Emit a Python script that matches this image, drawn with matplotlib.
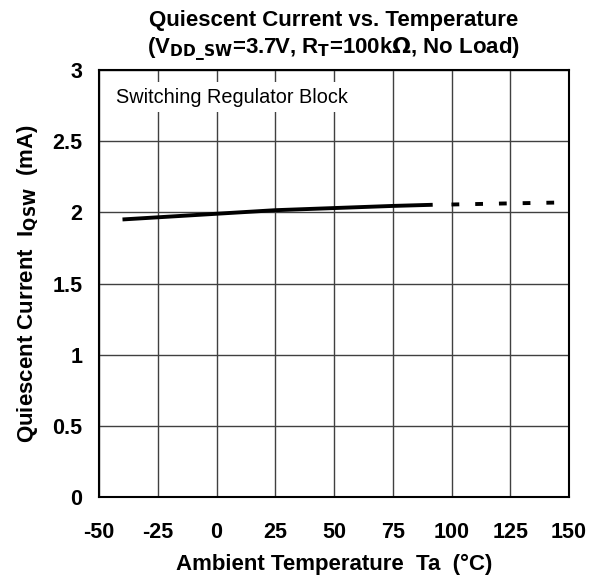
import matplotlib
matplotlib.use("Agg")
import matplotlib.pyplot as plt

plt.rcParams['font.family'] = ['Liberation Sans', 'DejaVu Sans']
plt.rcParams['axes.unicode_minus'] = False

# datos
temp_solid = [-40, 0, 25, 50, 75, 92]
iq_solid = [1.95, 1.99, 2.015, 2.03, 2.045, 2.053]
temp_dash = [100, 125, 150]
iq_dash = [2.055, 2.063, 2.07]

xticks = [-50, -25, 0, 25, 50, 75, 100, 125, 150]
yticks = [0, 0.5, 1, 1.5, 2, 2.5, 3]
ytick_labels = ['0', '0.5', '1', '1.5', '2', '2.5', '3']

fig = plt.figure(figsize=(6.04, 5.78), dpi=100)
ax = fig.add_axes([99/604, 1 - 497/578, (569-99)/604, (497-70)/578])

ax.plot(temp_solid, iq_solid, color='black', lw=2.8, solid_capstyle='butt', zorder=4)
ax.plot(temp_dash, iq_dash, color='black', lw=2.8, dashes=(2.0, 4.1), zorder=4)

ax.set_xlim(-50, 150)
ax.set_ylim(0, 3)
ax.set_xticks(xticks)
ax.set_yticks(yticks)
ax.set_yticklabels(ytick_labels)
ax.tick_params(length=0, labelsize=15.5)
ax.tick_params(axis='x', pad=18)
ax.tick_params(axis='y', pad=12)
for lab in ax.get_xticklabels() + ax.get_yticklabels():
    lab.set_fontweight('bold')
ax.grid(True, color='#404040', lw=1.0)
for s in ax.spines.values():
    s.set_linewidth(1.5)

ax.set_xlabel('Ambient Temperature  Ta  (°C)', fontsize=16, fontweight='bold', labelpad=8)
ax.set_ylabel(r'Quiescent Current  I$_{\mathbf{QSW}}$  (mA)', fontsize=16, fontweight='bold', labelpad=8)
ax.set_title('Quiescent Current vs. Temperature\n'
             r'(V$_{\mathbf{DD\_SW}}$=3.7V, R$_{\mathbf{T}}$=100k$\mathbf{\Omega}$, No Load)',
             fontsize=16, fontweight='bold', pad=11, linespacing=1.3)

ax.text(-42.8, 2.81, 'Switching Regulator Block', fontsize=14.3, va='center', ha='left',
        bbox=dict(facecolor='white', edgecolor='none', pad=4), zorder=5)

fig.savefig('out.png', dpi=100)
